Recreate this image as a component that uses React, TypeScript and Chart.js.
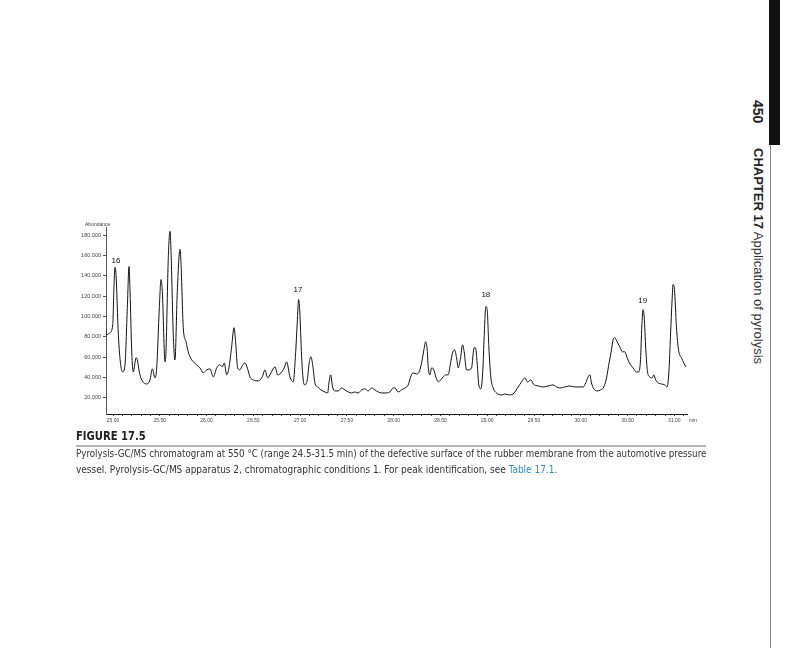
import { useEffect, useRef } from "react";
import { Chart, registerables } from "chart.js";

Chart.register(...registerables);

// Retention time (min)
const times = [
  24.915, 24.933, 24.968, 24.997, 25.011, 25.021, 25.032, 25.057, 25.082, 25.104,
  25.128, 25.153, 25.171, 25.182, 25.2, 25.217, 25.246, 25.26, 25.281, 25.307,
  25.36, 25.395, 25.42, 25.449, 25.467, 25.495, 25.513, 25.527, 25.556, 25.566,
  25.591, 25.609, 25.62, 25.644, 25.662, 25.687, 25.716, 25.726, 25.751, 25.78,
  25.804, 25.841, 25.894, 25.929, 25.965, 26.001, 26.036, 26.072, 26.108, 26.143,
  26.168, 26.189, 26.215, 26.239, 26.268, 26.293, 26.311, 26.332, 26.357, 26.375,
  26.41, 26.439, 26.464, 26.499, 26.552, 26.595, 26.624, 26.653, 26.688, 26.731,
  26.76, 26.795, 26.83, 26.856, 26.891, 26.926, 26.952, 26.969, 26.984, 26.995,
  27.016, 27.033, 27.051, 27.076, 27.097, 27.115, 27.134, 27.158, 27.187, 27.222,
  27.265, 27.294, 27.308, 27.326, 27.347, 27.372, 27.407, 27.443, 27.479, 27.514,
  27.55, 27.585, 27.621, 27.657, 27.692, 27.728, 27.764, 27.799, 27.834, 27.871,
  27.906, 27.959, 27.995, 28.013, 28.048, 28.084, 28.12, 28.155, 28.181, 28.208,
  28.245, 28.272, 28.298, 28.323, 28.341, 28.358, 28.369, 28.387, 28.405, 28.429,
  28.451, 28.475, 28.501, 28.529, 28.558, 28.582, 28.608, 28.629, 28.651, 28.672,
  28.689, 28.715, 28.736, 28.753, 28.779, 28.803, 28.832, 28.86, 28.874, 28.892,
  28.91, 28.932, 28.953, 28.967, 28.985, 28.999, 29.017, 29.038, 29.063, 29.099,
  29.153, 29.188, 29.241, 29.287, 29.33, 29.367, 29.402, 29.431, 29.466, 29.491,
  29.544, 29.597, 29.651, 29.704, 29.741, 29.776, 29.829, 29.883, 29.936, 29.989,
  30.025, 30.053, 30.078, 30.096, 30.114, 30.139, 30.174, 30.211, 30.246, 30.275,
  30.302, 30.328, 30.345, 30.363, 30.388, 30.417, 30.446, 30.47, 30.495, 30.531,
  30.559, 30.595, 30.62, 30.638, 30.652, 30.666, 30.677, 30.695, 30.713, 30.737,
  30.762, 30.78, 30.801, 30.826, 30.862, 30.897, 30.922, 30.943, 30.958, 30.976,
  30.986, 31.001, 31.022, 31.044, 31.076, 31.1, 31.122,
];

// Abundance
const abundance = [
  91900, 82000, 84000, 91900, 131400, 148200, 141300, 82000, 52400, 45400,
  52400, 108700, 149200, 124500, 65200, 45400, 59300, 57300, 45400, 37500,
  33600, 37500, 48400, 39500, 49400, 108700, 136300, 124500, 55300, 65200,
  158100, 183800, 164000, 82000, 57300, 124500, 166000, 154100, 88900, 75100,
  65200, 57300, 52400, 49400, 44500, 47400, 48400, 40500, 49400, 52400,
  50400, 54300, 42500, 49400, 70100, 88900, 74100, 49400, 47400, 50400,
  54300, 48400, 40500, 37500, 36600, 40500, 47400, 39500, 44500, 50400,
  42500, 44500, 49400, 55300, 40500, 35600, 64200, 93900, 116600, 106700,
  60300, 37500, 32600, 37500, 54300, 60300, 52400, 34600, 30600, 27700,
  25700, 24700, 34600, 42500, 30600, 26700, 26700, 29600, 27700, 25700,
  24700, 25700, 24700, 27700, 28700, 26700, 29600, 27700, 25700, 24700,
  24700, 25700, 29600, 29600, 25700, 27700, 29600, 32600, 40500, 44500,
  43500, 45400, 54300, 67200, 75100, 67200, 50400, 42500, 49400, 47400,
  40500, 35600, 37500, 40500, 42500, 42500, 54300, 64200, 67200, 59300,
  49400, 59300, 72100, 65200, 47400, 47400, 49400, 69200, 69200, 54300,
  32600, 28700, 47400, 80000, 109700, 106700, 70100, 40500, 29600, 24700,
  22700, 23700, 22700, 24700, 30600, 35600, 39500, 35600, 37500, 33600,
  31600, 30600, 31600, 32600, 30600, 29600, 30600, 31600, 30600, 30600,
  30600, 34600, 40500, 42500, 34600, 28700, 26700, 27700, 30600, 39500,
  54300, 67200, 77100, 79000, 75100, 70100, 65200, 65200, 59300, 52400,
  49400, 45400, 45400, 57300, 89900, 106700, 99800, 67200, 45400, 40500,
  39500, 42500, 37500, 34600, 33600, 32600, 30600, 47400, 80000, 116600,
  131400, 126500, 89900, 67200, 59300, 54300, 50400,
];

// Axis ticks
const xMajorTicks = [25.0, 25.5, 26.0, 26.5, 27.0, 27.5, 28.0, 28.5, 29.0, 29.5, 30.0, 30.5, 31.0];
const yTicks = [20000, 40000, 60000, 80000, 100000, 120000, 140000, 160000, 180000];

// Peak labels
const peakNames = ["16", "17", "18", "19"];
const peakLabelTimes = [25.032, 26.976, 28.985, 30.662];
const peakLabelHeights = [155100, 126500, 121500, 115600];

const FONT = "'Liberation Sans', Arial, sans-serif";
const NARROW = "'Liberation Sans Narrow', 'Arial Narrow', 'DejaVu Sans Condensed', sans-serif";

export default function App() {
  const ref = useRef<HTMLCanvasElement>(null);

  useEffect(() => {
    if (!ref.current) return;
    const minorTicks: number[] = [];
    for (let i = 250; i <= 311; i++) minorTicks.push(i / 10);

    const labelPlugin = {
      id: "peakLabels",
      afterDatasetsDraw(chart: any) {
        const { ctx, scales } = chart;
        const x = scales.x;
        const y = scales.y;
        ctx.save();
        ctx.fillStyle = "#111";
        ctx.textAlign = "center";
        ctx.textBaseline = "middle";
        ctx.font = `8px ${FONT}`;
        peakNames.forEach((n, i) => {
          ctx.fillText(n, x.getPixelForValue(peakLabelTimes[i]), y.getPixelForValue(peakLabelHeights[i]));
        });
        ctx.font = `5px ${FONT}`;
        ctx.fillStyle = "#444";
        ctx.textAlign = "left";
        ctx.fillText("Abundance", chart.chartArea.left - 21, chart.chartArea.top - 2);
        ctx.fillText("min", chart.chartArea.right + 2, chart.chartArea.bottom + 7);
        ctx.restore();
      },
    };

    const chart = new Chart(ref.current, {
      type: "line",
      data: {
        datasets: [
          {
            data: times.map((t, i) => ({ x: t, y: abundance[i] })),
            borderColor: "#111",
            borderWidth: 1,
            pointRadius: 0,
            cubicInterpolationMode: "monotone",
            fill: false,
          },
        ],
      },
      options: {
        responsive: false,
        animation: false,
        devicePixelRatio: 1,
        layout: { padding: { left: 0, right: 33, top: 17, bottom: 0 } },
        plugins: {
          legend: { display: false },
          tooltip: { enabled: false },
        },
        scales: {
          x: {
            type: "linear",
            min: 24.925,
            max: 31.135,
            afterBuildTicks: (scale: any) => {
              scale.ticks = minorTicks.map((v) => ({ value: v }));
            },
            afterFit: (scale: any) => {
              scale.height = 26;
            },
            ticks: {
              autoSkip: false,
              maxRotation: 0,
              padding: 2,
              color: "#444",
              font: { size: 5, family: FONT },
              callback: (v: any) => {
                const val = Number(v);
                const hit = xMajorTicks.find((m) => Math.abs(m - val) < 1e-6);
                return hit !== undefined ? hit.toFixed(2) : "";
              },
            },
            grid: { drawOnChartArea: false, drawTicks: true, tickLength: 2, color: "#333" },
            border: { display: true, color: "#111", width: 1 },
          },
          y: {
            type: "linear",
            min: 4000,
            max: 188000,
            afterBuildTicks: (scale: any) => {
              scale.ticks = yTicks.map((v) => ({ value: v }));
            },
            afterFit: (scale: any) => {
              scale.width = 106;
            },
            ticks: {
              padding: 2,
              color: "#444",
              font: { size: 5.5, family: FONT },
              callback: (v: any) => Number(v).toLocaleString("en-US"),
            },
            grid: { drawOnChartArea: false, drawTicks: true, tickLength: 3, color: "#555" },
            border: { display: true, color: "#555", width: 1, dash: [1, 1] },
          },
        },
      },
      plugins: [labelPlugin],
    } as any);
    return () => chart.destroy();
  }, []);

  const captionStyle = {
    position: "absolute" as const,
    left: 76,
    fontFamily: NARROW,
    fontSize: 11,
    lineHeight: "16px",
    color: "#333",
    whiteSpace: "nowrap" as const,
    transformOrigin: "0 0",
  };

  return (
    <div
      style={{
        position: "absolute",
        left: 0,
        top: 0,
        width: 800,
        height: 648,
        background: "#fff",
        overflow: "hidden",
        fontFamily: FONT,
        color: "#222",
      }}
    >
      <div style={{ position: "absolute", left: 0, top: 210, width: 720, height: 230 }}>
        <canvas ref={ref} width={720} height={230} style={{ display: "block" }} />
      </div>

      <div
        style={{
          position: "absolute",
          left: 76,
          top: 429,
          fontFamily: NARROW,
          fontWeight: "bold",
          fontSize: 12,
          lineHeight: "14px",
          color: "#222",
          whiteSpace: "nowrap",
          transform: "scaleX(0.93)",
          transformOrigin: "0 0",
        }}
      >
        FIGURE 17.5
      </div>
      <div style={{ position: "absolute", left: 76, top: 445, width: 630, height: 2, background: "#b5b5b5" }} />
      <div style={{ ...captionStyle, top: 446, transform: "scaleX(0.88)" }}>
        Pyrolysis-GC/MS chromatogram at 550 °C (range 24.5-31.5 min) of the defective surface of the rubber membrane from the automotive pressure
      </div>
      <div style={{ ...captionStyle, top: 462, transform: "scaleX(0.905)" }}>
        vessel. Pyrolysis-GC/MS apparatus 2, chromatographic conditions 1. For peak identification, see{" "}
        <span style={{ color: "#2a8cc4" }}>Table 17.1</span>.
      </div>

      <div style={{ position: "absolute", left: 769, top: 0, width: 11, height: 145, background: "#111" }} />
      <div style={{ position: "absolute", left: 770, top: 145, width: 1, height: 503, background: "#888" }} />
      <div
        style={{
          position: "absolute",
          left: 750,
          top: 100,
          writingMode: "vertical-rl",
          fontSize: 14,
          lineHeight: "16px",
          fontWeight: "bold",
          color: "#222",
          whiteSpace: "nowrap",
        }}
      >
        450
      </div>
      <div
        style={{
          position: "absolute",
          left: 750,
          top: 148,
          writingMode: "vertical-rl",
          fontSize: 13,
          lineHeight: "16px",
          color: "#333",
          whiteSpace: "nowrap",
        }}
      >
        <span style={{ fontWeight: "bold", color: "#222" }}>CHAPTER 17</span> Application of pyrolysis
      </div>
    </div>
  );
}
